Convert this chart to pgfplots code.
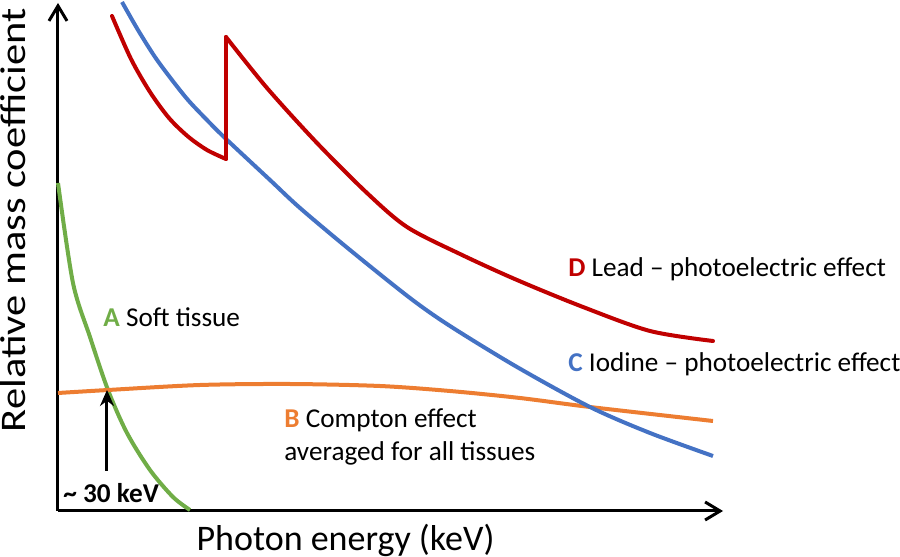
\documentclass[border=0pt]{standalone}
\usepackage{fontspec}
\setmainfont{Carlito}
\usepackage{pgfplots}
\pgfplotsset{compat=1.18}
\usetikzlibrary{arrows.meta}
\definecolor{cred}{HTML}{C00000}
\definecolor{cblue}{HTML}{4472C4}
\definecolor{corange}{HTML}{ED7D31}
\definecolor{cgreen}{HTML}{70AD47}
\newcommand{\lab}{\fontsize{13.6}{16.5}\selectfont}
\begin{document}
\begin{tikzpicture}
\begin{axis}[
  x=0.5pt, y=0.5pt,
  xmin=0, xmax=665, ymin=0, ymax=508,
  axis lines=left,
  axis line style={line width=1.5pt, -{Straight Barb[length=7.5pt,width=9pt]}},
  xtick=\empty, ytick=\empty,
  clip=false,
  xlabel={Photon energy (keV)},
  ylabel={\scalebox{1.18}[1]{Relative mass coefficient}},
  xlabel style={at={(axis description cs:0.4323,-0.0768)}, anchor=base, font=\fontsize{18}{20}\selectfont, inner sep=0pt},
  ylabel style={at={(axis description cs:-0.0496,0.572)}, anchor=base, font=\fontsize{18}{20}\selectfont, inner sep=0pt},
]
% Soft tissue (A)
\addplot[cgreen, line width=2pt, smooth] coordinates {
 (0,328) (15,228) (32,174) (50,121) (69,78) (92,41) (115,14) (132,1)};
% Compton (B)
\addplot[corange, line width=2pt, smooth] coordinates {
 (0,118) (50,121) (142,126) (232,127) (322,125) (392,120) (462,113) (532,104) (655,90)};
% Iodine (C)
\addplot[cblue, line width=2pt, smooth] coordinates {
 (64,509) (80,481) (97,454) (114,431) (130,411) (147,393) (167,373) (212,331) (242,303) (292,261) (352,213) (392,185) (459,144) (532,104) (592,78) (655,55)};
% Lead (D)
\addplot[cred, line width=2pt, smooth, line cap=round] coordinates {
 (54,495) (73,452) (92,419) (111,393) (130,374.5) (149,361) (168,352)};
\addplot[cred, line width=2pt, sharp plot, line cap=round] coordinates {
 (168,352) (168,474)};
\addplot[cred, line width=2pt, smooth, line cap=round] coordinates {
 (168,474) (209,423) (259,368) (309,318) (349,284) (402,257) (459,231) (525,204) (592,180) (655,170)};

\node[anchor=base west, inner sep=0pt, font=\lab] at (axis cs:510,234) {\textbf{\textcolor{cred}{D}} Lead – photoelectric effect};
\node[anchor=base west, inner sep=0pt, font=\lab] at (axis cs:510,139) {\textbf{\textcolor{cblue}{C}} Iodine – photoelectric effect};
\node[anchor=base west, inner sep=0pt, font=\lab] at (axis cs:45,184) {\textbf{\textcolor{cgreen}{A}} Soft tissue};
\node[anchor=base west, inner sep=0pt, font=\lab] at (axis cs:226,83) {\textbf{\textcolor{corange}{B}} Compton effect};
\node[anchor=base west, inner sep=0pt, font=\lab] at (axis cs:226,50) {averaged for all tissues};
\node[anchor=base west, inner sep=0pt, font=\lab\bfseries] at (axis cs:5,8) {\textasciitilde\ 30 keV};
\draw[line width=1.5pt, -{Stealth[length=8pt,width=7pt]}] (axis cs:49,40) -- (axis cs:49,121);

\coordinate (bbll) at (axis cs:-58,-46);
\coordinate (bbur) at (axis cs:842,511);
\end{axis}
\pgfresetboundingbox
\path (bbll) rectangle (bbur);
\end{tikzpicture}
\end{document}
